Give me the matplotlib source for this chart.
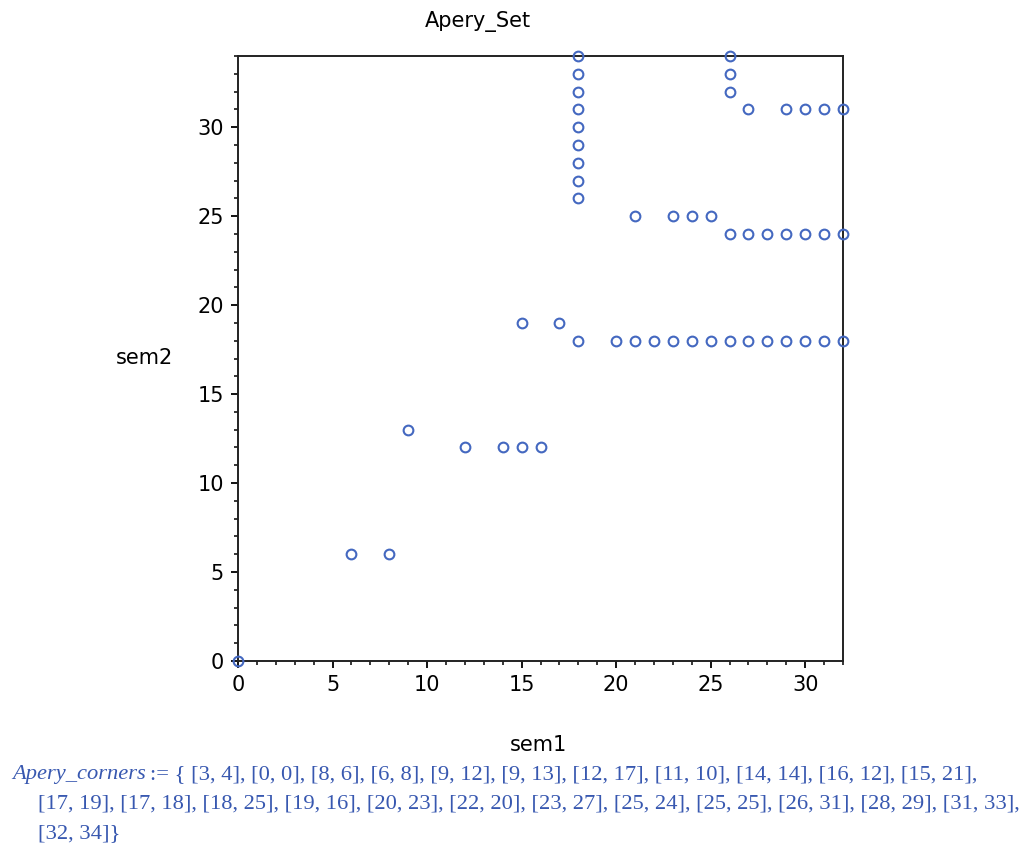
import matplotlib.pyplot as plt
from matplotlib.ticker import MultipleLocator

# Apery set points (sem1, sem2)
sem1 = [0, 6, 8, 9, 12, 14, 15, 16, 15, 17,
        18, 20, 21, 22, 23, 24, 25, 26, 27, 28, 29, 30, 31, 32,
        18, 18, 18, 18, 18, 18, 18, 18, 18,
        21, 23, 24, 25,
        26, 27, 28, 29, 30, 31, 32,
        26, 26, 26, 27, 29, 30, 31, 32]
sem2 = [0, 6, 6, 13, 12, 12, 12, 12, 19, 19,
        18, 18, 18, 18, 18, 18, 18, 18, 18, 18, 18, 18, 18, 18,
        26, 27, 28, 29, 30, 31, 32, 33, 34,
        25, 25, 25, 25,
        24, 24, 24, 24, 24, 24, 24,
        32, 33, 34, 31, 31, 31, 31, 31]

# corners printed under the plot
corners = [[3, 4], [0, 0], [8, 6], [6, 8], [9, 12], [9, 13], [12, 17], [11, 10],
           [14, 14], [16, 12], [15, 21], [17, 19], [17, 18], [18, 25], [19, 16],
           [20, 23], [22, 20], [23, 27], [25, 24], [25, 25], [26, 31], [28, 29],
           [31, 33], [32, 34]]

blue = '#4468c0'
txt_blue = '#3858b0'

fig = plt.figure(figsize=(10.27, 8.49), dpi=100)
ax = fig.add_axes([238/1027, 1 - 661/849, 605/1027, 605/849])

ax.plot(sem1, sem2, 'o', mfc='none', mec=blue, ms=7, mew=1.5, clip_on=False, zorder=3)

ax.set_xlim(0, 32)
ax.set_ylim(0, 34)
ax.xaxis.set_major_locator(MultipleLocator(5))
ax.xaxis.set_minor_locator(MultipleLocator(1))
ax.yaxis.set_major_locator(MultipleLocator(5))
ax.yaxis.set_minor_locator(MultipleLocator(1))
ax.tick_params(which='major', length=5, width=1.3, direction='out', labelsize=15, pad=5)
ax.tick_params(which='minor', length=3, width=1.1, direction='out')
for s in ax.spines.values():
    s.set_linewidth(1.4)
    s.set_color('#222222')

fig.text(478/1027, 1 - 21/849, 'Apery_Set', fontsize=15, ha='center', va='center')
ax.set_xlabel('sem1', fontsize=15)
ax.xaxis.set_label_coords(0.496, -0.122)
ax.set_ylabel('sem2', fontsize=15, rotation=0, va='center', ha='center')
ax.yaxis.set_label_coords(-0.154, 0.5)

# the printed corners list, wrapped like the worksheet output
items = ['[%d, %d]' % (a, b) for a, b in corners]
line1 = ':= { ' + ', '.join(items[:11]) + ','
line2 = ', '.join(items[11:23]) + ','
line3 = items[23] + '}'
fs = 16.2
name = fig.text(12/1027, 1 - 779/849, 'Apery_corners', family='Liberation Serif', style='italic',
                fontsize=fs, color=txt_blue, va='baseline')
ax.annotate(line1, xy=(1, 0), xycoords=name, xytext=(3, 0), textcoords='offset points',
            family='Liberation Serif', fontsize=fs, color=txt_blue, va='bottom',
            annotation_clip=False)
fig.text(38/1027, 1 - 809/849, line2, family='Liberation Serif', fontsize=fs,
         color=txt_blue, va='baseline')
fig.text(38/1027, 1 - 838/849, line3, family='Liberation Serif', fontsize=fs,
         color=txt_blue, va='baseline')

fig.savefig('out.png', dpi=100)
